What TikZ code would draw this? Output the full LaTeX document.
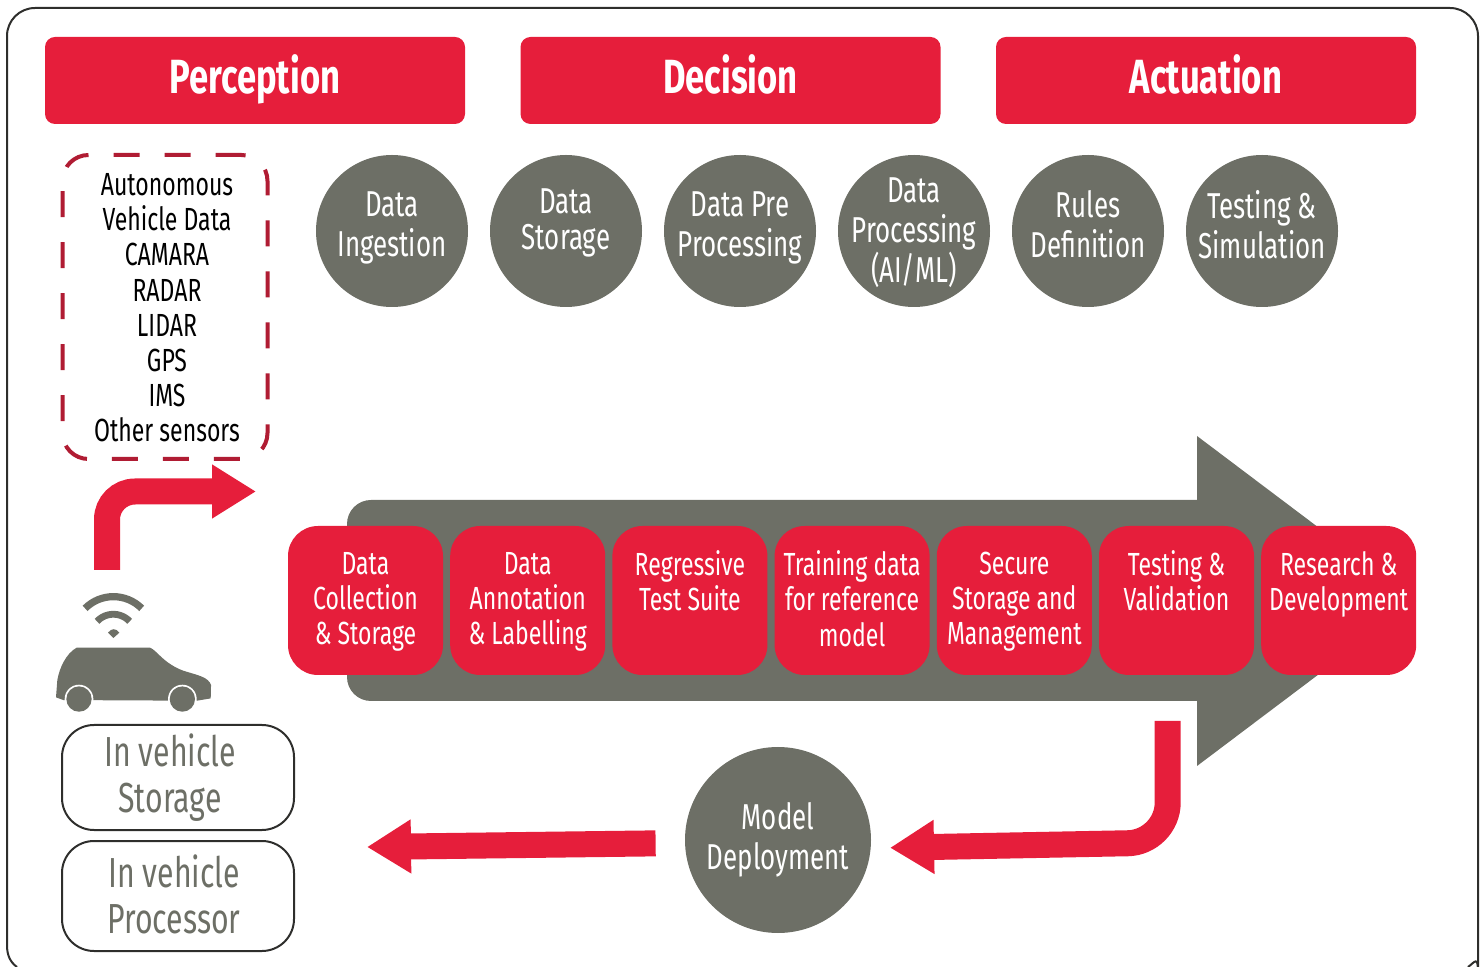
\documentclass[tikz,border=0pt]{standalone}
\usepackage{fontspec}
\setmainfont[FakeStretch=0.72]{Fira Sans}
\usetikzlibrary{shapes, arrows.meta}
\definecolor{avred}{HTML}{E61E3B}
\definecolor{avgrey}{HTML}{6D6F66}
\definecolor{avdash}{HTML}{B01C33}
\definecolor{avframe}{HTML}{2E2E2C}
\tikzstyle{header} = [rectangle, fill=avred, text=white, text centered, rounded corners=5pt, minimum width=210pt, minimum height=43.5pt, text height=18pt, text depth=4.5pt, font=\fontsize{24}{26}\selectfont\bfseries]
\tikzstyle{stage} = [circle, fill=avgrey, text=white, align=center, inner sep=-8pt, minimum size=76pt, text depth=7pt, font=\fontsize{18}{20}\selectfont]
\tikzstyle{task} = [rectangle, fill=avred, text=white, align=center, rounded corners=15pt, inner sep=0pt, minimum width=77.5pt, minimum height=74.5pt, text depth=2pt, font=\fontsize{16}{17.6}\selectfont]
\tikzstyle{store} = [rectangle, draw=avframe, line width=1pt, text=avgrey, align=center, rounded corners=16pt, minimum width=116pt, font=\fontsize{21}{23}\selectfont]
\tikzstyle{sensorbox} = [rectangle, draw=avdash, line width=2pt, dash pattern=on 13pt off 12.5pt, rounded corners=13pt, align=center, minimum width=102.5pt, minimum height=152pt, text height=135pt, font=\fontsize{16}{17.6}\selectfont]
\tikzstyle{line} = [draw=avred, line width=13pt, rounded corners=14pt, -{Triangle[length=22pt,width=25.5pt]}]

\begin{document}
\begin{tikzpicture}[x=0.5pt, y=-0.5pt, align=center]
    \useasboundingbox (0,0) rectangle (1484,967);
    % outer frame
    \draw [avframe, line width=1pt] (17,967) .. controls (10,962) and (7,955) .. (7,945) [rounded corners=14pt] -- (7,8) -- (1478,8) -- (1478,945) [sharp corners] .. controls (1478,955) and (1475,962) .. (1468,967);

    \node [header] (perception) at (255,80.5) {Perception};
    \node [header, right of=perception, node distance=237.75pt] (decision) {Decision};
    \node [header, right of=decision, node distance=237.75pt] (actuation) {Actuation};

    \node [sensorbox] (sensors) at (165,307) {\hspace*{2pt}Autonomous\\\hspace*{2pt}Vehicle Data\\\hspace*{2pt}CAMARA\\\hspace*{2pt}RADAR\\\hspace*{2pt}LIDAR\\\hspace*{2pt}GPS\\\hspace*{2pt}IMS\\\hspace*{2pt}Other sensors};

    \node [stage] (ingestion) at (392,231) {Data\\Ingestion};
    \node [stage, right of=ingestion, node distance=87pt, text depth=11.7pt, font=\fontsize{18}{18}\selectfont] (storage) {Data\\Storage};
    \node [stage, right of=storage, node distance=87pt] (preproc) {Data Pre\\Processing};
    \node [stage, right of=preproc, node distance=87pt, text depth=0.5pt] (processing) {Data\\Processing\\(AI/ML)};
    \node [stage, right of=processing, node distance=87pt] (rules) {Rules\\Definition};
    \node [stage, right of=rules, node distance=87pt] (testing) {Testing \&\\Simulation};

    % big arrow behind the tasks
    \fill [avgrey] (1197,500) [rounded corners=12pt] -- (347,500) -- (347,701) [sharp corners] -- (1197,701) -- (1197,766) -- (1416,601) -- (1197,436) -- cycle;

    \node [task] (collection) at (365.5,600.5) {Data\\Collection\\\& Storage};
    \node [task, right of=collection, node distance=81.1pt] (annotation) {Data\\Annotation\\\& Labelling};
    \node [task, right of=annotation, node distance=81.1pt] (regressive) {Regressive\\Test Suite\\\mbox{}};
    \node [task, right of=regressive, node distance=81.1pt] (training) {Training data\\for reference\\model};
    \node [task, right of=training, node distance=81.1pt] (secure) {Secure\\Storage and\\Management};
    \node [task, right of=secure, node distance=81.1pt] (validation) {Testing \&\\Validation\\\mbox{}};
    \node [task, right of=validation, node distance=81.1pt] (research) {Research \&\\Development\\\mbox{}};

    \node [stage, minimum size=93pt, text depth=3.7pt] (model) at (778,840) {Model\\Deployment};

    \node [store, minimum height=52.5pt] (vstorage) at (178,777.5) {In vehicle\hspace*{8pt}\\Storage\hspace*{8pt}};
    \node [store, minimum height=55pt, text depth=2pt] (vprocessor) at (178,896) {In vehicle\hspace*{4pt}\\Processor\hspace*{4pt}};

    % car and wifi
    \begin{scope}[shift={(40,450)}, x=0.1667pt, y=-0.1667pt]
      \fill [avgrey] (48,742) -- (52,690) .. controls (58,655) and (78,610) .. (110,593) -- (330,593) .. controls (350,600) and (370,640) .. (430,662) .. controls (470,675) and (505,680) .. (513,705) -- (512,745) -- (470,752) -- (70,750) -- cycle;
      \fill [white] (117,747) circle (43);
      \fill [white] (427,747) circle (43);
      \fill [avgrey] (117,747) circle (38);
      \fill [avgrey] (427,747) circle (38);
      \draw [avgrey, line width=3.6pt] (305,475) arc (-45:-135:120);
      \draw [avgrey, line width=3.4pt] (269,514) arc (-43:-137:67);
      \fill [avgrey] (220,564) -- (204,548) .. controls (214,534) and (228,534) .. (238,548) -- cycle;
    \end{scope}

    \coordinate (car_top) at (107,570);
    \coordinate (sensor_tip) at (256,491.5);
    \coordinate (return_top) at (1167.7,721);
    \coordinate (return_turn) at (1167.7,842.5);
    \coordinate (model_tip) at (367,847);

    \path [line] (car_top) |- (sensor_tip);
    \path [line, rounded corners=20pt, shorten >=9.5pt] (return_top) -- (return_turn) -- (model.-5);
    \path [line, rounded corners=0pt, shorten <=14.5pt] (model.west) ++(0,3) -- (model_tip);
\end{tikzpicture}
\end{document}
